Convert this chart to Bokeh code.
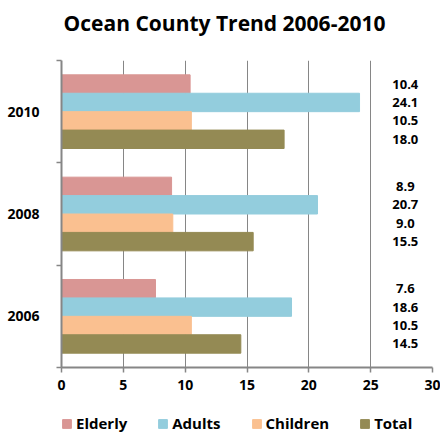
from bokeh.plotting import figure
from bokeh.layouts import column
from bokeh.models import ColumnDataSource, FixedTicker, Range1d, Legend, LegendItem, Label
from bokeh.core.properties import value
from bokeh.embed import file_html
from bokeh.resources import INLINE

title_text = "Ocean County Trend 2006-2010"
years = ["2006", "2008", "2010"]
series = ["Elderly", "Adults", "Children", "Total"]
elderly = [7.6, 8.9, 10.4]
adults = [18.6, 20.7, 24.1]
children = [10.5, 9.0, 10.5]
total = [14.5, 15.5, 18.0]
colors = ["#D99694", "#93CDDD", "#FAC090", "#948A54"]
x_ticks = [0, 5, 10, 15, 20, 25, 30]

values = [elderly, adults, children, total]
offsets = [0.27, 0.09, -0.09, -0.27]
FONT = "Open Sans"
W = 440
FRAME_LEFT = 61

def blank(h):
    f = figure(width=W, height=h, output_backend="svg", toolbar_location=None,
               x_range=Range1d(0, 30), y_range=Range1d(0, 3),
               x_axis_location=None, y_axis_location=None,
               min_border_left=0, min_border_right=0, min_border_top=0, min_border_bottom=0)
    f.grid.grid_line_color = None
    f.outline_line_color = None
    f.title_location = None
    return f

# ---- title strip (frames of the column are aligned with the main chart)
pt = blank(45)
pt.add_layout(Label(x=224 - FRAME_LEFT, y=23, x_units="screen", y_units="screen", text=title_text,
                    text_align="center", text_baseline="middle", text_font=FONT,
                    text_font_size="21px", text_font_style="bold", text_color="#000000"))

# ---- main chart
p = figure(width=W, height=355, output_backend="svg", toolbar_location=None,
           x_range=Range1d(0, 30), y_range=Range1d(0, 3),
           min_border_left=FRAME_LEFT, min_border_right=8, min_border_top=15, min_border_bottom=33)
p.title_location = None
p.outline_line_color = None
p.background_fill_color = "white"
p.border_fill_color = "white"

for name, vals, off, col in zip(series, values, offsets, colors):
    src = ColumnDataSource(dict(y=[i + 0.5 + off for i in range(len(years))], right=vals))
    p.hbar(y="y", right="right", left=0, height=0.18, source=src,
           fill_color=col, line_color=col)
    lab = ColumnDataSource(dict(x=[27.8] * len(vals), y=[i + 0.5 + off for i in range(len(years))],
                                t=["%.1f" % v for v in vals]))
    p.text(x="x", y="y", text="t", source=lab, text_align="center", text_baseline="middle",
           text_font=value(FONT), text_font_size="13px", text_font_style="bold", text_color="#000000")

p.xaxis.ticker = FixedTicker(ticks=x_ticks)
p.xaxis.axis_line_color = "#868686"
p.xaxis.axis_line_width = 2
p.xaxis.major_tick_line_color = "#868686"
p.xaxis.major_tick_line_width = 1.5
p.xaxis.major_tick_out = 5
p.xaxis.major_tick_in = 0
p.xaxis.minor_tick_line_color = None
p.xaxis.major_label_text_font = FONT
p.xaxis.major_label_text_font_size = "14px"
p.xaxis.major_label_text_font_style = "bold"
p.xaxis.major_label_text_color = "#000000"
p.xaxis.major_label_standoff = 7

p.yaxis.ticker = FixedTicker(ticks=[i + 0.5 for i in range(len(years))],
                             minor_ticks=list(range(len(years) + 1)))
p.yaxis.major_label_overrides = {i + 0.5: y for i, y in enumerate(years)}
p.yaxis.axis_line_color = "#868686"
p.yaxis.axis_line_width = 2
p.yaxis.major_tick_line_color = None
p.yaxis.major_tick_out = 0
p.yaxis.minor_tick_line_color = "#868686"
p.yaxis.minor_tick_line_width = 1.5
p.yaxis.minor_tick_out = 5
p.yaxis.minor_tick_in = 0
p.yaxis.major_label_text_font = FONT
p.yaxis.major_label_text_font_size = "14px"
p.yaxis.major_label_text_font_style = "bold"
p.yaxis.major_label_text_color = "#000000"
p.yaxis.major_label_standoff = 17

p.xgrid.grid_line_color = "#868686"
p.xgrid.grid_line_width = 1
p.ygrid.grid_line_color = None

# ---- legend strip (hidden copies of the series provide the legend swatches)
pl = blank(33)
items = []
for name, vals, off, col in zip(series, values, offsets, colors):
    src = ColumnDataSource(dict(y=[i + 0.5 + off for i in range(len(years))], right=vals))
    r = pl.hbar(y="y", right="right", left=0, height=0.18, source=src,
                fill_color=col, line_color=col, visible=False)
    items.append(LegendItem(label=name, renderers=[r]))
legend = Legend(items=items, orientation="horizontal", location=(0, 0),
                padding=0, margin=0, spacing=30, glyph_width=11, glyph_height=11,
                label_standoff=4, label_height=12, label_text_font=FONT,
                label_text_font_size="15px", label_text_font_style="bold",
                label_text_color="#000000", border_line_color=None,
                background_fill_alpha=0, inactive_fill_alpha=0)
pl.add_layout(legend, "center")

layout = column(pt, p, pl, spacing=0)
open("out.html", "w").write(file_html(layout, INLINE))
